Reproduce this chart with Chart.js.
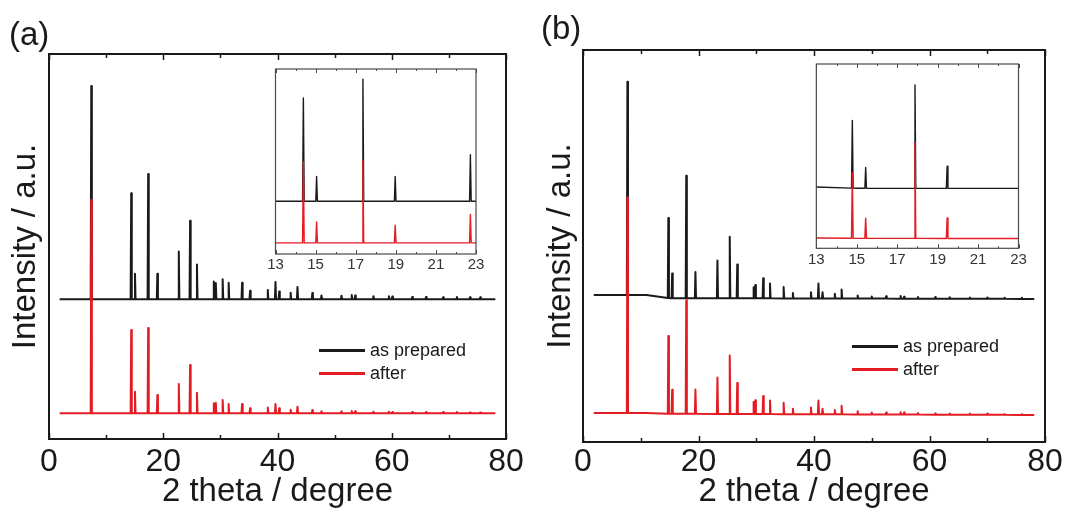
<!DOCTYPE html>
<html lang="en">
<head>
<meta charset="UTF-8">
<title>XRD patterns (a) and (b)</title>
<script src="https://cdn.jsdelivr.net/npm/chart.js"></script>
<style>
  body { margin: 0; background: #fff; font-family: "Liberation Sans", Arial, sans-serif; color: #1a1a1a; }
  #wrap { position: relative; width: 1070px; height: 515px; overflow: hidden; }
  canvas { position: absolute; }
  .panel { position: absolute; font-size: 33px; line-height: 1; }
  .legend { position: absolute; font-size: 18px; }
  .legend div { display: flex; align-items: center; white-space: nowrap; }
  .legend .line { display: inline-block; width: 46px; height: 3px; margin-right: 5px; }
</style>
</head>
<body>
<div id="wrap">
  <canvas id="mainA" width="535" height="515" style="left:0;top:0"></canvas>
  <canvas id="mainB" width="535" height="515" style="left:535px;top:0"></canvas>
  <canvas id="insetA" width="222" height="220" style="left:265px;top:60px"></canvas>
  <canvas id="insetB" width="225" height="220" style="left:805px;top:55px"></canvas>
  <div class="panel" style="left:9px;top:17px">(a)</div>
  <div class="panel" style="left:541px;top:11px">(b)</div>
  <div class="legend" id="legA" style="left:319px;top:339px;line-height:23px"></div>
  <div class="legend" id="legB" style="left:852px;top:335px;line-height:23px"></div>
</div>
<script>
// measured pattern range (2 theta, degree)
const scanStart = 2;
const scanEnd = 78;

// (a) peak positions and peak heights above each trace's baseline
const anglesA = [7.4, 14.39, 15.05, 17.36, 18.97, 22.72, 24.7, 25.9, 28.85, 29.2, 30.4, 31.45, 33.8, 35.2,
  38.3, 39.65, 40.3, 42.3, 43.5, 46.1, 47.7, 51.2, 53.0, 53.6, 56.8, 59.5, 60.1, 63.6, 66.0, 69.0, 71.4, 73.7, 75.5];
const asPreparedA = [55.4, 27.5, 6.6, 32.5, 6.6, 12.4, 20.4, 9.0, 4.6, 4.2, 5.2, 4.3, 4.3, 2.2,
  2.4, 4.5, 2.0, 1.7, 3.2, 1.6, 1.0, 0.9, 1.1, 1.0, 0.8, 0.8, 0.7, 0.6, 0.6, 0.5, 0.6, 0.5, 0.5];
const afterA = [55.4, 21.6, 5.6, 22.1, 4.7, 7.6, 12.5, 5.3, 2.6, 2.7, 3.4, 2.4, 2.4, 1.3,
  1.5, 2.4, 1.3, 0.9, 1.7, 0.8, 0.5, 0.5, 0.6, 0.5, 0.4, 0.4, 0.3, 0.3, 0.3, 0.3, 0.3, 0.2, 0.2];

// (b)
const anglesB = [7.69, 14.78, 15.44, 17.88, 19.47, 23.28, 25.41, 26.71, 29.55, 29.84, 31.2, 32.38, 34.74, 36.34,
  39.47, 40.77, 41.48, 43.6, 44.78, 47.56, 50.0, 52.5, 55.0, 55.6, 58.0, 61.0, 63.5, 67.0, 70.0, 73.0, 76.0];
const asPreparedB = [54.4, 20.4, 6.3, 31.2, 6.7, 9.6, 15.7, 8.6, 2.8, 3.4, 5.1, 3.8, 2.9, 1.4,
  1.6, 3.8, 1.6, 1.2, 2.3, 0.8, 0.5, 0.6, 0.7, 0.5, 0.4, 0.4, 0.4, 0.3, 0.3, 0.3, 0.3];
const afterB = [55.0, 19.8, 6.1, 29.0, 6.2, 9.3, 14.9, 7.9, 3.1, 3.5, 4.6, 3.5, 2.9, 1.4,
  1.7, 3.5, 1.4, 1.1, 2.2, 0.8, 0.5, 0.5, 0.6, 0.5, 0.4, 0.3, 0.3, 0.3, 0.3, 0.2, 0.2];
// broad background of (b)
const bgAnglesB = [2, 11, 15, 78];
const bgAsPreparedB = [0.8, 0.8, 0, -0.2];
const bgAfterB = [0.2, 0.2, 0, -0.3];

const seriesNames = ['as prepared', 'after'];
const mainTicks = [0, 20, 40, 60, 80];
const insetTicks = [13, 15, 17, 19, 21, 23];

const BLACK = '#1a1a1a';
const RED = '#e31b23';
const FONT = '"Liberation Sans", Arial, sans-serif';

// stacking offsets (vertical shift of each trace)
const offsets = {
  mainA: { asPrepared: 36.3, after: 6.7 },
  mainB: { asPrepared: 36.7, after: 7.2 },
  insetA: { asPrepared: 11.1, after: 0 },
  insetB: { asPrepared: 15.1, after: 0 }
};

function bgLevel(x, bx, by) {
  if (!bx) return 0;
  for (let i = 1; i < bx.length; i++) {
    if (x <= bx[i]) {
      const t = (x - bx[i - 1]) / (bx[i] - bx[i - 1]);
      return by[i - 1] + t * (by[i] - by[i - 1]);
    }
  }
  return by[by.length - 1];
}

// stick pattern: baseline with a narrow triangle at each peak
function pattern(angles, heights, base, from, to, hw, bx, by) {
  const pts = [];
  pts.push({ x: from, y: base + bgLevel(from, bx, by) });
  if (bx) bx.forEach(v => { if (v > from && v < to) pts.push({ x: v, y: base + bgLevel(v, bx, by) }); });
  angles.forEach((a, i) => {
    if (a - hw <= from || a + hw >= to) return;
    const b = base + bgLevel(a, bx, by);
    pts.push({ x: a - hw, y: b }, { x: a, y: b + heights[i] }, { x: a + hw, y: b });
  });
  pts.push({ x: to, y: base + bgLevel(to, bx, by) });
  return pts.sort((p, q) => p.x - q.x);
}

const frame = {
  id: 'frame',
  beforeDraw(chart, args, o) {
    if (!o.fill) return;
    const a = chart.chartArea, ctx = chart.ctx;
    ctx.save();
    ctx.fillStyle = '#fff';
    ctx.fillRect(a.left, a.top, a.width, a.height);
    ctx.restore();
  },
  afterDraw(chart, args, o) {
    const a = chart.chartArea, ctx = chart.ctx, x = chart.scales.x;
    ctx.save();
    ctx.strokeStyle = o.color;
    ctx.lineWidth = o.width;
    ctx.strokeRect(a.left, a.top, a.width, a.height);
    ctx.beginPath();
    for (let v = o.min; v <= o.max; v += o.step) {
      const px = Math.round(x.getPixelForValue(v)) + 0.5;
      const len = (v - o.min) % o.major === 0 ? o.long : o.short;
      ctx.moveTo(px, a.bottom); ctx.lineTo(px, a.bottom - len);
      ctx.moveTo(px, a.top); ctx.lineTo(px, a.top + len);
    }
    ctx.lineWidth = o.tickWidth;
    ctx.stroke();
    ctx.restore();
  }
};

function makeChart(id, datasets, o) {
  return new Chart(document.getElementById(id), {
    type: 'line',
    data: { datasets },
    options: {
      responsive: false,
      animation: false,
      layout: { padding: o.padding },
      elements: { point: { radius: 0 }, line: { tension: 0, borderJoinStyle: 'round', borderCapStyle: 'round' } },
      plugins: { legend: { display: false }, tooltip: { enabled: false }, frame: o.frame },
      scales: {
        x: {
          type: 'linear', min: o.xMin, max: o.xMax,
          grid: { display: false, drawTicks: false },
          border: { display: false },
          afterBuildTicks: s => { s.ticks = o.ticks.map(v => ({ value: v })); },
          afterFit: s => { s.height = o.xHeight; },
          ticks: { color: o.tickColor, font: { family: FONT, size: o.tickSize }, padding: o.tickPad, maxRotation: 0, autoSkip: false },
          title: o.xTitle ? { display: true, text: o.xTitle, color: BLACK, font: { family: FONT, size: 33 }, padding: { top: 0, bottom: 3 } } : { display: false }
        },
        y: {
          min: o.yMin, max: o.yMax,
          display: !!o.yTitle,
          grid: { display: false, drawTicks: false },
          border: { display: false },
          ticks: { display: false },
          afterFit: s => { s.width = o.yWidth || 0; },
          title: o.yTitle ? { display: true, text: o.yTitle, color: BLACK, font: { family: FONT, size: 33 }, padding: { top: 6, bottom: 0 } } : { display: false }
        }
      }
    },
    plugins: [frame]
  });
}

function traces(angles, black, red, off, from, to, hw, lw, bx, byBlack, byRed) {
  return [
    { label: seriesNames[1], data: pattern(angles, red, off.after, from, to, hw, bx, byRed), borderColor: RED, borderWidth: lw },
    { label: seriesNames[0], data: pattern(angles, black, off.asPrepared, from, to, hw, bx, byBlack), borderColor: BLACK, borderWidth: lw }
  ];
}

const mainFrame = { color: BLACK, width: 2, tickWidth: 1.5, min: 0, max: 80, step: 10, major: 20, long: 6, short: 4 };
const insetFrame = { color: '#4a4a4a', width: 1.2, tickWidth: 1, min: 13, max: 23, step: 1, major: 2, long: 4, short: 2, fill: true };

makeChart('mainA', traces(anglesA, asPreparedA, afterA, offsets.mainA, scanStart, scanEnd, 0.1, 2), {
  padding: { left: 0, top: 54, right: 29, bottom: 0 }, xMin: 0, xMax: 80, yMin: 0, yMax: 100,
  ticks: mainTicks, xHeight: 76, yWidth: 49, tickSize: 32, tickPad: 4, tickColor: BLACK,
  xTitle: '2 theta / degree', yTitle: 'Intensity / a.u.', frame: mainFrame
});
makeChart('mainB', traces(anglesB, asPreparedB, afterB, offsets.mainB, scanStart, scanEnd, 0.1, 2, bgAnglesB, bgAsPreparedB, bgAfterB), {
  padding: { left: 0, top: 50, right: 25, bottom: 0 }, xMin: 0, xMax: 80, yMin: 0, yMax: 100,
  ticks: mainTicks, xHeight: 73, yWidth: 48, tickSize: 32, tickPad: 1, tickColor: BLACK,
  xTitle: '2 theta / degree', yTitle: 'Intensity / a.u.', frame: mainFrame
});
makeChart('insetA', traces(anglesA, asPreparedA, afterA, offsets.insetA, 13, 23, 0.04, 1.4), {
  padding: { left: 10.5, top: 9, right: 11, bottom: 0 }, xMin: 13, xMax: 23, yMin: -2.96, yMax: 46.3,
  ticks: insetTicks, xHeight: 26, tickSize: 15, tickPad: 2, tickColor: '#333', frame: insetFrame
});
makeChart('insetB', traces(anglesB, asPreparedB, afterB, offsets.insetB, 13, 23, 0.04, 1.4, bgAnglesB, bgAsPreparedB, bgAfterB), {
  padding: { left: 10, top: 9, right: 11.5, bottom: 0 }, xMin: 13, xMax: 23, yMin: -3.0, yMax: 52.6,
  ticks: insetTicks, xHeight: 26.7, tickSize: 15, tickPad: 3, tickColor: '#333', frame: insetFrame
});

// legends
['legA', 'legB'].forEach(id => {
  const el = document.getElementById(id);
  [[seriesNames[0], BLACK], [seriesNames[1], RED]].forEach(([name, color]) => {
    const row = document.createElement('div');
    row.innerHTML = '<span class="line" style="background:' + color + '"></span>' + name;
    el.appendChild(row);
  });
});
</script>
</body>
</html>
